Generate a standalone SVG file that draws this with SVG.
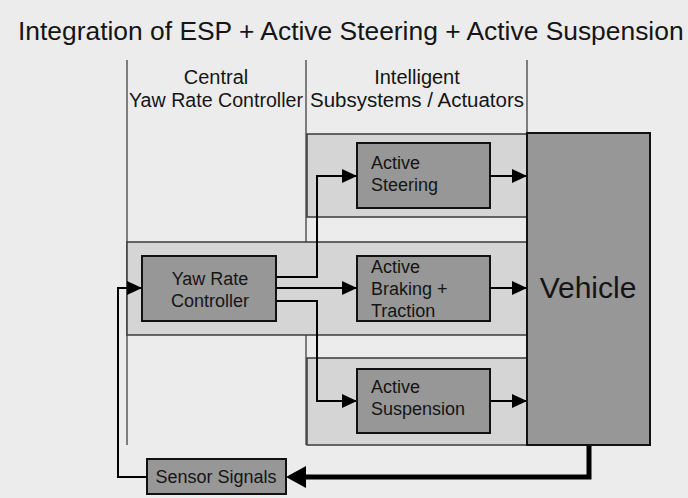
<svg xmlns="http://www.w3.org/2000/svg" width="688" height="498" viewBox="0 0 688 498">
<defs>
<style>
text{font-family:"Liberation Sans",Arial,sans-serif;fill:#151515}
.band{fill:#d5d5d5;stroke:#3a3a3a;stroke-width:1.5}
.box{fill:#979797;stroke:#111;stroke-width:2}
.col{stroke:#333;stroke-width:1.2;fill:none}
.wire{stroke:#000;stroke-width:2;fill:none}
.lbl{font-size:18px}
.hdr{font-size:20px;text-anchor:middle}
</style>
<marker id="arr" markerUnits="userSpaceOnUse" markerWidth="15" markerHeight="14" refX="15" refY="7" orient="auto">
<path d="M0,0 L15,7 L0,14 z" fill="#000"/>
</marker>
</defs>
<rect width="688" height="498" fill="#ececec"/>
<text x="18" y="40" font-size="26.4">Integration of ESP + Active Steering + Active Suspension</text>
<g id="columns">
<line class="col" x1="127" y1="60" x2="127" y2="445"/>
<line class="col" x1="306" y1="60" x2="306" y2="445"/>
<line class="col" x1="527" y1="60" x2="527" y2="133"/>
<text class="hdr" x="216" y="84">Central</text>
<text class="hdr" x="216" y="107" textLength="174" lengthAdjust="spacingAndGlyphs">Yaw Rate Controller</text>
<text class="hdr" x="417" y="84">Intelligent</text>
<text class="hdr" x="417" y="107" textLength="214" lengthAdjust="spacingAndGlyphs">Subsystems / Actuators</text>
</g>
<g id="bands">
<rect class="band" x="307" y="134" width="220" height="83"/>
<rect class="band" x="127" y="242" width="400" height="93"/>
<rect class="band" x="307" y="358" width="220" height="87"/>
</g>
<g id="connectors">
<path class="wire" d="M276,277 H317 V176 H357" marker-end="url(#arr)"/>
<path class="wire" d="M276,288 H357" marker-end="url(#arr)"/>
<path class="wire" d="M276,301 H317 V401 H357" marker-end="url(#arr)"/>
<path class="wire" d="M490,176 H527" marker-end="url(#arr)"/>
<path class="wire" d="M490,288 H527" marker-end="url(#arr)"/>
<path class="wire" d="M490,401 H527" marker-end="url(#arr)"/>
<path class="wire" d="M147,477 H118 V288 H142" marker-end="url(#arr)"/>
<path d="M589,445 V477 H304" stroke="#000" stroke-width="5" fill="none"/>
<polygon points="286,477 306,466 306,488" fill="#000"/>
</g>
<g id="controller">
<rect class="box" x="142" y="256" width="134" height="65"/>
<text class="lbl" x="210" y="285" text-anchor="middle">Yaw Rate</text>
<text class="lbl" x="210" y="307" text-anchor="middle">Controller</text>
</g>
<g id="steering">
<rect class="box" x="357" y="143" width="133" height="65"/>
<text class="lbl" x="371" y="169">Active</text>
<text class="lbl" x="371" y="191">Steering</text>
</g>
<g id="braking">
<rect class="box" x="357" y="256" width="133" height="65"/>
<text class="lbl" x="371" y="273">Active</text>
<text class="lbl" x="371" y="295">Braking +</text>
<text class="lbl" x="371" y="317">Traction</text>
</g>
<g id="suspension">
<rect class="box" x="357" y="369" width="133" height="64"/>
<text class="lbl" x="371" y="393">Active</text>
<text class="lbl" x="371" y="415">Suspension</text>
</g>
<g id="vehicle">
<rect class="box" x="527" y="133" width="123" height="312"/>
<text x="588" y="298" font-size="30" text-anchor="middle">Vehicle</text>
</g>
<g id="sensor">
<rect class="box" x="147" y="459" width="139" height="35"/>
<text class="lbl" x="216" y="483" text-anchor="middle">Sensor Signals</text>
</g>
</svg>
